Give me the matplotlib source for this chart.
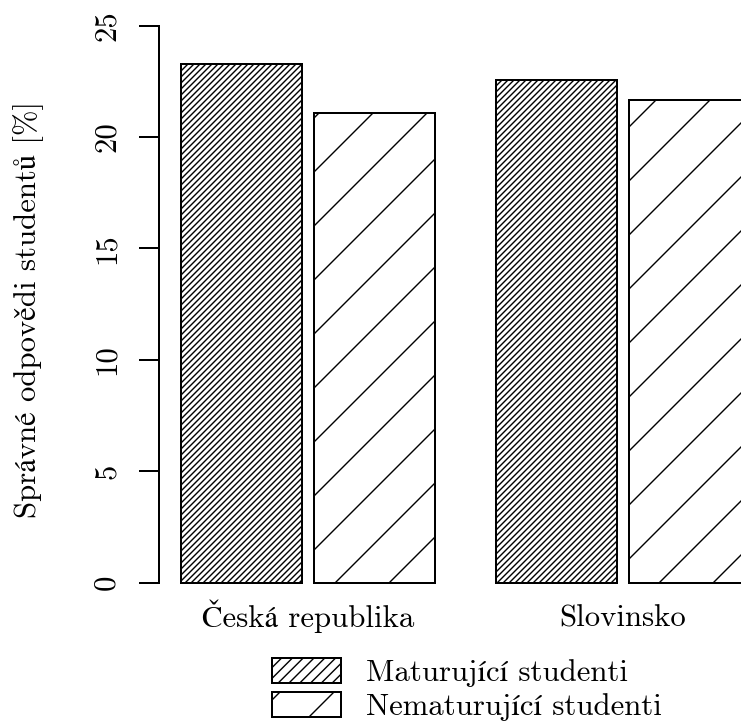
import matplotlib
matplotlib.use("Agg")
import matplotlib.pyplot as plt
from matplotlib.patches import Patch

# hatch spacing in matplotlib depends on dpi (one pattern cell = 1 inch)
DPI = 162

def px(v):
    # pixels -> points
    return v * 72 / DPI

skupiny = ["Česká republika", "Slovinsko"]
serie = ["Maturující studenti", "Nematurující studenti"]
maturujici = [23.3, 22.55]
nematurujici = [21.1, 21.65]
srafy = ["/" * 9, "/"]
srafy_legenda = ["/" * 5, "/"]

plt.rcParams["font.family"] = ["cmr10", "STIXGeneral"]
plt.rcParams["hatch.linewidth"] = px(1.4)
plt.rcParams["axes.unicode_minus"] = False

fig = plt.figure(figsize=(741 / DPI, 726 / DPI), dpi=DPI)
ax = fig.add_axes([0.21417, 0.16694, 0.8286, 0.82837])

fs = px(30.8)
for i, hodnoty in enumerate([maturujici, nematurujici]):
    leve = [0.5 + g * 2.6 + i * 1.1 for g in range(len(skupiny))]
    ax.bar(leve, hodnoty, width=1.0, align="edge", color="white",
           edgecolor="black", linewidth=px(2), hatch=srafy[i])

ax.set_xlim(0.312, 5.388)
ax.set_ylim(-1, 26)

for s in ["top", "right", "bottom"]:
    ax.spines[s].set_visible(False)
ax.spines["left"].set_bounds(0, 25)
ax.spines["left"].set_linewidth(px(2))

ax.set_yticks([0, 5, 10, 15, 20, 25])
ax.tick_params(axis="y", length=px(20), width=px(2), pad=px(18), labelsize=fs)
for t in ax.get_yticklabels():
    t.set_rotation(90)
    t.set_va("center")

stredy = [0.5 + g * 2.6 + 1.05 for g in range(len(skupiny))]
ax.set_xticks(stredy)
ax.set_xticklabels(skupiny)
ax.tick_params(axis="x", length=0, pad=px(22), labelsize=fs)
for t in ax.get_xticklabels():
    t.set_va("baseline")

fig.text(29 / 741, 1 - 309 / 726, "Správné odpovědi studentů [%]",
         rotation=90, ha="center", va="center", fontsize=fs)

handles = [Patch(facecolor="white", edgecolor="black", linewidth=px(2), hatch=h)
           for h in srafy_legenda]
ax.legend(handles=handles, labels=serie, loc="upper left",
          bbox_to_anchor=(272 / 741, 1 - 658 / 726), bbox_transform=fig.transFigure,
          frameon=False, fontsize=fs, handlelength=2.24, handleheight=0.89,
          handletextpad=0.8, labelspacing=0.15, borderpad=0, borderaxespad=0)

fig.savefig("out.png", dpi=DPI)
